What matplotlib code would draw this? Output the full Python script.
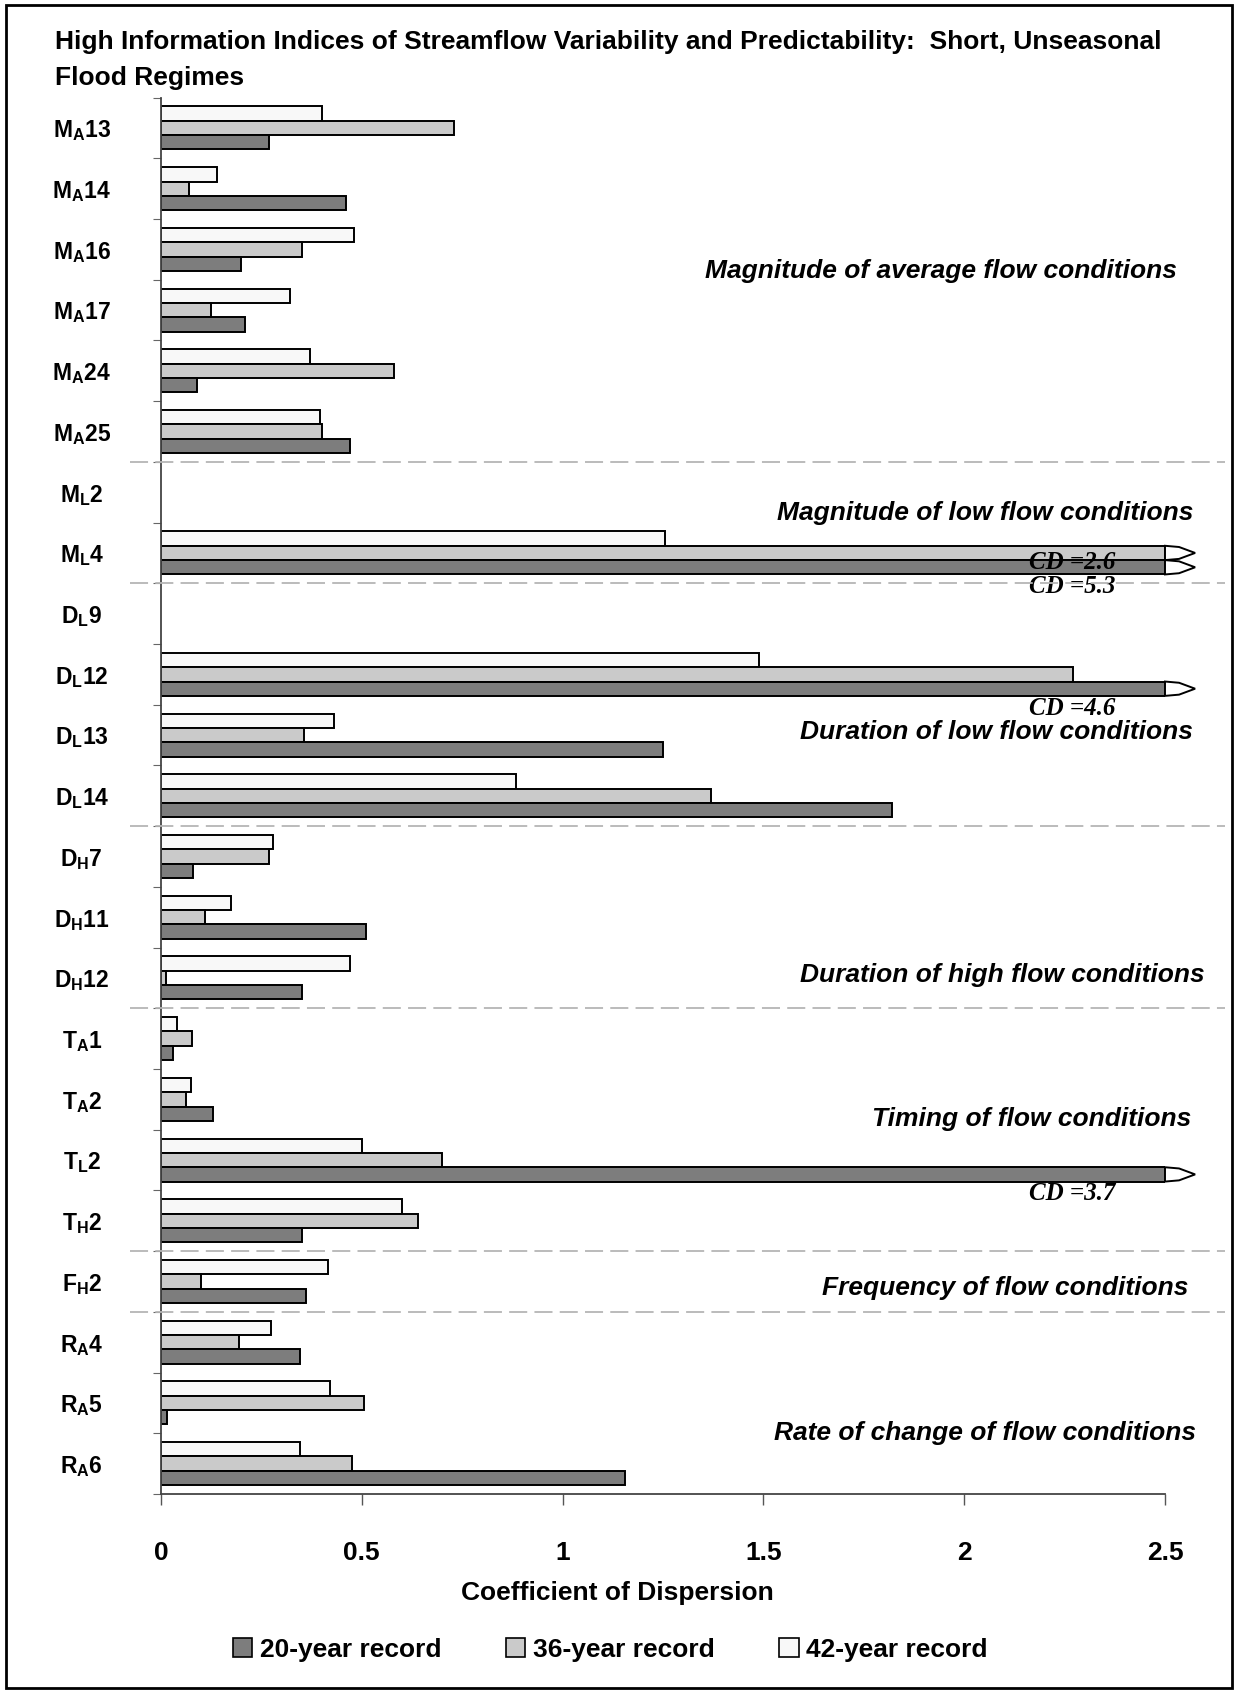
import numpy as np
import matplotlib.pyplot as plt
import matplotlib.transforms as mtransforms
from matplotlib.patches import Polygon, Patch, Rectangle
from matplotlib.lines import Line2D

plt.rcParams['font.family'] = ['Liberation Sans', 'DejaVu Sans']
plt.rcParams['font.weight'] = 'bold'
plt.rcParams['mathtext.fontset'] = 'custom'
plt.rcParams['mathtext.bf'] = 'Liberation Sans:bold'
plt.rcParams['mathtext.rm'] = 'Liberation Sans:bold'

title = ("High Information Indices of Streamflow Variability and Predictability:  Short, Unseasonal\n"
         "Flood Regimes")

# index names, letter + subscript + number
names = ["M_A13", "M_A14", "M_A16", "M_A17", "M_A24", "M_A25",
         "M_L2", "M_L4",
         "D_L9", "D_L12", "D_L13", "D_L14",
         "D_H7", "D_H11", "D_H12",
         "T_A1", "T_A2", "T_L2", "T_H2",
         "F_H2",
         "R_A4", "R_A5", "R_A6"]

sections = ["Magnitude of average flow conditions",
            "Magnitude of low flow conditions",
            "Duration of low flow conditions",
            "Duration of high flow conditions",
            "Timing of flow conditions",
            "Frequency of flow conditions",
            "Rate of change of flow conditions"]
section_sizes = [6, 2, 4, 3, 4, 1, 3]

nan = np.nan
# coefficient of dispersion (values > 2.5 run off the scale)
rec20 = [0.27, 0.46, 0.20, 0.21, 0.09, 0.47,
         nan, 5.3,
         nan, 4.6, 1.25, 1.82,
         0.08, 0.51, 0.35,
         0.03, 0.13, 3.7, 0.35,
         0.36,
         0.345, 0.015, 1.155]
rec36 = [0.73, 0.07, 0.35, 0.125, 0.58, 0.40,
         nan, 2.6,
         nan, 2.27, 0.355, 1.37,
         0.27, 0.11, 0.013,
         0.077, 0.063, 0.70, 0.64,
         0.10,
         0.195, 0.505, 0.475]
rec42 = [0.40, 0.14, 0.48, 0.32, 0.37, 0.395,
         nan, 1.255,
         nan, 1.49, 0.43, 0.885,
         0.28, 0.175, 0.47,
         0.04, 0.075, 0.50, 0.60,
         0.415,
         0.275, 0.42, 0.345]

legend_labels = ["20-year record", "36-year record", "42-year record"]
xticks = [0, 0.5, 1, 1.5, 2, 2.5]
xtick_labels = ["0", "0.5", "1", "1.5", "2", "2.5"]

W, H = 1239, 1700
fig = plt.figure(figsize=(W / 100, H / 100), dpi=100)


def fx(px):
    return px / W


def fy(py):
    return 1 - py / H


x0_px, x1_px = 161, 1165
ax = fig.add_axes([fx(x0_px), fy(1494), fx(x1_px) - fx(x0_px), fy(97.6) - fy(1494)])
n = len(names)
rows = np.arange(n)
h = 0.236
xmax = 2.5
px_unit = (x1_px - x0_px) / xmax

dark = '#7d7d7d'
light = '#cacaca'
white = '#f8f8f8'

# (values, offset in row, colour, offset of the CD note)
series = [(rec42, -h, white, 0.3),
          (rec36, 0.0, light, 0.15),
          (rec20, h, dark, 0.32)]

for vals, off, col, txt_off in series:
    v = np.array(vals, dtype=float)
    ok = ~np.isnan(v)
    ax.barh(rows[ok] + off, np.minimum(v[ok], xmax), height=h, color=col,
            edgecolor='black', linewidth=1.4)
    for r, val in zip(rows[ok], v[ok]):
        if val > xmax:
            yc = r + off
            top, bot = yc - h / 2, yc + h / 2
            tip = Polygon([(xmax, top), (xmax + 0.035, top + 0.02), (xmax + 0.075, yc),
                           (xmax + 0.035, bot - 0.02), (xmax, bot)],
                          closed=True, facecolor='white', edgecolor='black',
                          linewidth=1.4, clip_on=False, zorder=3)
            ax.add_patch(tip)
            ax.text(2.268, yc + txt_off, f"CD ={val:g}", ha='center', va='center',
                    fontsize=18, family='Liberation Serif', style='italic',
                    weight='bold', zorder=4)

ax.set_xlim(0, xmax)
ax.set_ylim(n - 0.5, -0.5)
for s in ['top', 'right']:
    ax.spines[s].set_visible(False)
for s in ['left', 'bottom']:
    ax.spines[s].set_linewidth(1.3)
    ax.spines[s].set_color('#444444')

ax.set_xticks(xticks)
ax.set_xticklabels(xtick_labels, fontsize=19, fontweight='bold')
ax.tick_params(axis='x', direction='out', length=8, width=1.0, color='#555555', pad=26)

labels = [r"$\mathbf{%s_{%s}%s}$" % (s[0], s[2], s[3:]) for s in names]
ax.set_yticks(rows)
ax.set_yticklabels(labels, fontsize=16.5)
for t in ax.get_yticklabels():
    t.set_horizontalalignment('center')
ax.tick_params(axis='y', which='major', length=0, pad=57)
ax.set_yticks(np.arange(-0.5, n, 1.0), minor=True)
ax.tick_params(axis='y', which='minor', direction='out', length=6, width=0.8, color='#666666')

# dashed separators between index groups
trans = mtransforms.blended_transform_factory(fig.transFigure, ax.transData)
for b in np.cumsum(section_sizes)[:-1] - 0.5:
    fig.add_artist(Line2D([fx(130), fx(1225)], [b, b], transform=trans,
                          color='#b5b5b5', linewidth=1.3, linestyle=(0, (10, 4))))

section_rows = [2.36, 6.35, 9.95, 13.95, 16.33, 19.1, 21.5]
section_right_px = [1177, 1193, 1193, 1205, 1191, 1188, 1196]
for name, r, xr in zip(sections, section_rows, section_right_px):
    ax.text((xr - x0_px) / px_unit, r, name, ha='right', va='center', fontsize=19,
            style='italic', weight='bold', clip_on=False)

fig.text(fx(55), fy(60), title, ha='left', va='center', fontsize=19,
         fontweight='bold', linespacing=1.6)
fig.text(fx(617), fy(1593), "Coefficient of Dispersion", ha='center', va='center',
         fontsize=19, fontweight='bold')

handles = [Patch(facecolor=c, edgecolor='black', linewidth=1.2) for c in [dark, light, white]]
fig.legend(handles, legend_labels, loc='center', bbox_to_anchor=(fx(610), fy(1650)),
           ncol=3, frameon=False, fontsize=19, handlelength=0.75, handleheight=0.75,
           handletextpad=0.27, columnspacing=2.45)

fig.add_artist(Rectangle((fx(6), fy(1688)), fx(1232) - fx(6), fy(5) - fy(1688),
                         transform=fig.transFigure, fill=False, edgecolor='black',
                         linewidth=2))

fig.savefig('out.png', dpi=100)
